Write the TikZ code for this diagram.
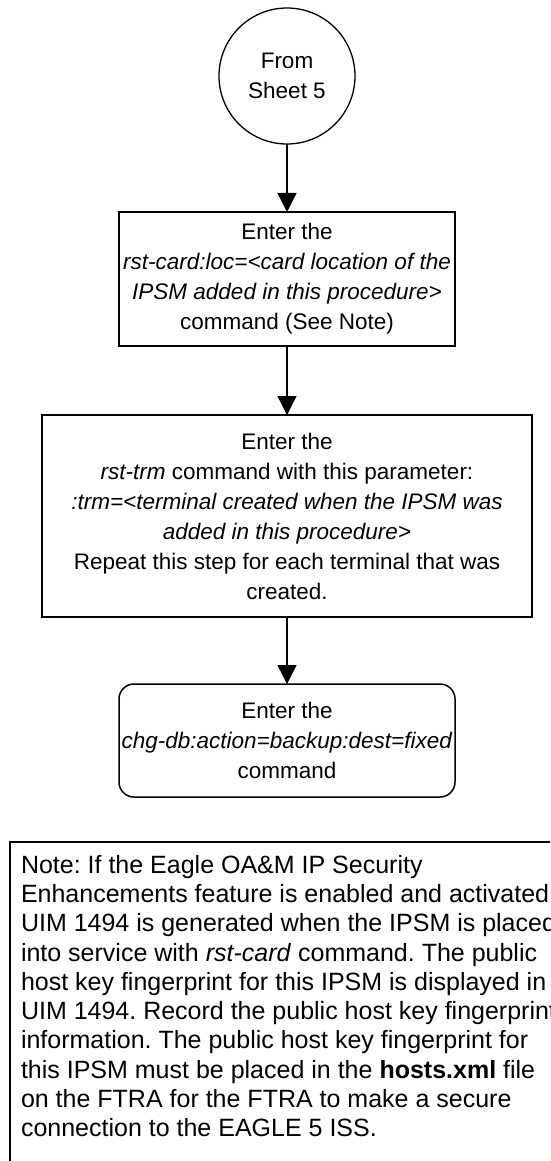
\documentclass[tikz,border=0pt]{standalone}
\usepackage{fontspec}
\setmainfont{Liberation Sans}
\usetikzlibrary{arrows.meta}
\frenchspacing
\begin{document}
\begin{tikzpicture}[x=1pt,y=-1pt,
  every node/.style={inner sep=0pt, outer sep=0pt},
  boxtext/.style={font=\fontsize{22.5}{30}\selectfont, align=center},
  procbox/.style={boxtext, draw, line width=1.5pt, rectangle},
  termbox/.style={procbox, rounded corners=15pt},
  startcircle/.style={boxtext, draw, circle, line width=1.3pt, minimum size=136pt},
  connector/.style={line width=1.3pt, -{Triangle[width=19pt,length=19pt]}},
  notetext/.style={font=\fontsize{25}{29.3}\selectfont\frenchspacing, align=left},
]
\useasboundingbox (0,0) rectangle (550,1161);
\clip (0,0) rectangle (550,1161);
\node[startcircle] (start) at (287,76) {From\\Sheet 5};
\node[procbox, minimum width=336pt, minimum height=134pt] (b1) at (287,279)
  {Enter the\\\textit{rst-card:loc=<card location of the}\\\textit{IPSM added in this procedure>}\\command (See Note)};
\node[procbox, minimum width=490pt, minimum height=202pt] (b2) at (287,516)
  {Enter the\\\textit{rst-trm} command with this parameter:\\\textit{:trm=<terminal created when the IPSM was}\\\textit{added in this procedure>}\\Repeat this step for each terminal that was\\created.};
\node[termbox, minimum width=336pt, minimum height=113pt] (b3) at (287,740.5)
  {Enter the\\\textit{chg-db:action=backup:dest=fixed}\\command};
\draw[connector] (start) -- (b1);
\draw[connector] (b1) -- (b2);
\draw[connector] (b2) -- (b3);
\node[draw, line width=1.5pt, anchor=north west, minimum width=560pt, minimum height=340pt] (notebox) at (10,842) {};
\node[notetext, anchor=north west] (note) at (21,855)
  {Note: If the Eagle OA\&M IP Security\\
   Enhancements feature is enabled and activated\\
   UIM 1494 is generated when the IPSM is placed\\
   into service with \textit{rst-card} command. The public\\
   host key fingerprint for this IPSM is displayed in\\
   UIM 1494. Record the public host key fingerprint\\
   information. The public host key fingerprint for\\
   this IPSM must be placed in the \textbf{hosts.xml} file\\
   on the FTRA for the FTRA to make a secure\\
   connection to the EAGLE 5 ISS.};
\end{tikzpicture}
\end{document}
